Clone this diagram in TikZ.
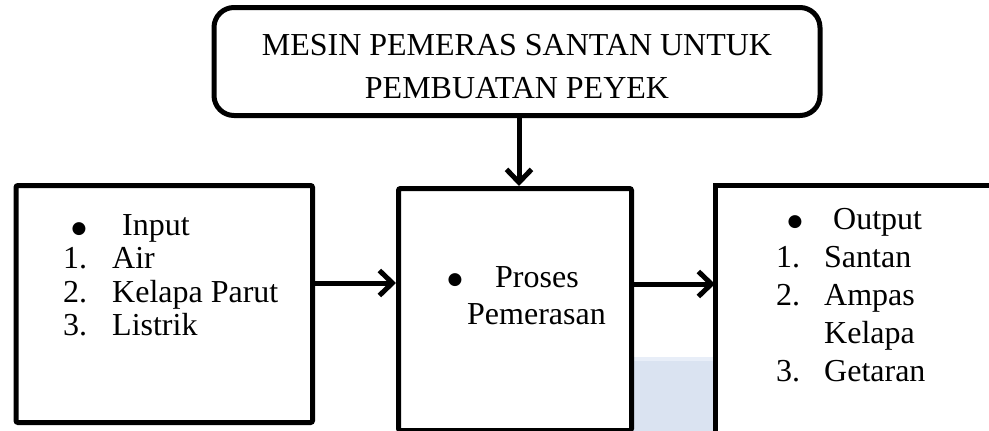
\documentclass[tikz,border=0pt]{standalone}
\usepackage{fontspec}
\setmainfont{Liberation Serif}
\newfontfamily\symfont{DejaVu Sans}
\usetikzlibrary{arrows.meta}

\definecolor{panelblue}{RGB}{218,227,241}
\definecolor{panelbluelight}{RGB}{232,238,248}
\definecolor{edgegray}{RGB}{150,150,150}

\begin{document}
\begin{tikzpicture}[x=1pt, y=-1pt,
  frame/.style={draw=black, line width=5pt, inner sep=0pt, rounded corners=2pt},
  titlebox/.style={frame, rounded corners=20pt},
  openbox/.style={draw=none, inner sep=0pt},
  flow/.style={line width=5pt, -{Straight Barb[length=13pt, width=25pt]}},
  txt/.style={anchor=base west, inner sep=0pt, font=\fontsize{32}{34}\selectfont},
  ctxt/.style={anchor=base, inner sep=0pt, font=\fontsize{32}{34}\selectfont},
  dot/.style={anchor=base, inner sep=0pt, font=\symfont\fontsize{17}{17}\selectfont},
]
\useasboundingbox (0,0) rectangle (989,431);

% shaded panel between the process and output boxes
\fill[panelblue] (632,357) rectangle (713,431);
\fill[panelbluelight] (632,357) rectangle (713,361);

% boxes
\node[titlebox, minimum width=606pt, minimum height=108pt] (title) at (517,61.5) {};
\node[frame, anchor=north west, minimum width=296.5pt, minimum height=237pt] (input) at (13.5,183) {};
\node[frame, anchor=north west, minimum width=233pt, minimum height=242pt] (process) at (396,186) {};
\node[openbox, anchor=north west, minimum width=290pt, minimum height=246pt] (output) at (715,185) {};
\draw[line width=5pt] (output.north east) -- (output.north west) -- (output.south west);
\draw[edgegray, line width=1pt] ([yshift=-1.5pt]output.south west) -- ([yshift=-1.5pt]output.south east);

% title text
\node[ctxt] (t1) at (517,56) {MESIN PEMERAS SANTAN UNTUK};
\node[ctxt] (t2) at (517,98) {PEMBUATAN PEYEK};

% input list
\node[dot] (ib) at (79,233) {●};
\node[txt] (i0) at (122,235) {Input};
\node[txt] (i1n) at (63,268.5) {1.};
\node[txt] (i1) at (112,268.5) {Air};
\node[txt] (i2n) at (63,302) {2.};
\node[txt] (i2) at (112,302) {Kelapa Parut};
\node[txt] (i3n) at (63,335.5) {3.};
\node[txt] (i3) at (112,335.5) {Listrik};

% process text
\node[dot] (pb) at (455,284) {●};
\node[txt] (p1) at (495,287) {Proses};
\node[txt] (p2) at (467,324) {Pemerasan};

% output list
\node[dot] (ob) at (795,226) {●};
\node[txt] (o0) at (833,229) {Output};
\node[txt] (o1n) at (776,267) {1.};
\node[txt] (o1) at (824,267) {Santan};
\node[txt] (o2n) at (776,305) {2.};
\node[txt] (o2) at (824,305) {Ampas};
\node[txt] (o2b) at (824,343) {Kelapa};
\node[txt] (o3n) at (776,381) {3.};
\node[txt] (o3) at (824,381) {Getaran};

% connectors
\coordinate (lane) at (0,283);
\draw[flow] ([xshift=2pt]title.south) -- ([xshift=2pt]title.south |- process.north);
\draw[flow] (input.east |- lane) -- (process.west |- lane);
\draw[flow] ([yshift=-1pt]process.east |- lane) -- ([yshift=-1pt]output.west |- lane);
\end{tikzpicture}
\end{document}
